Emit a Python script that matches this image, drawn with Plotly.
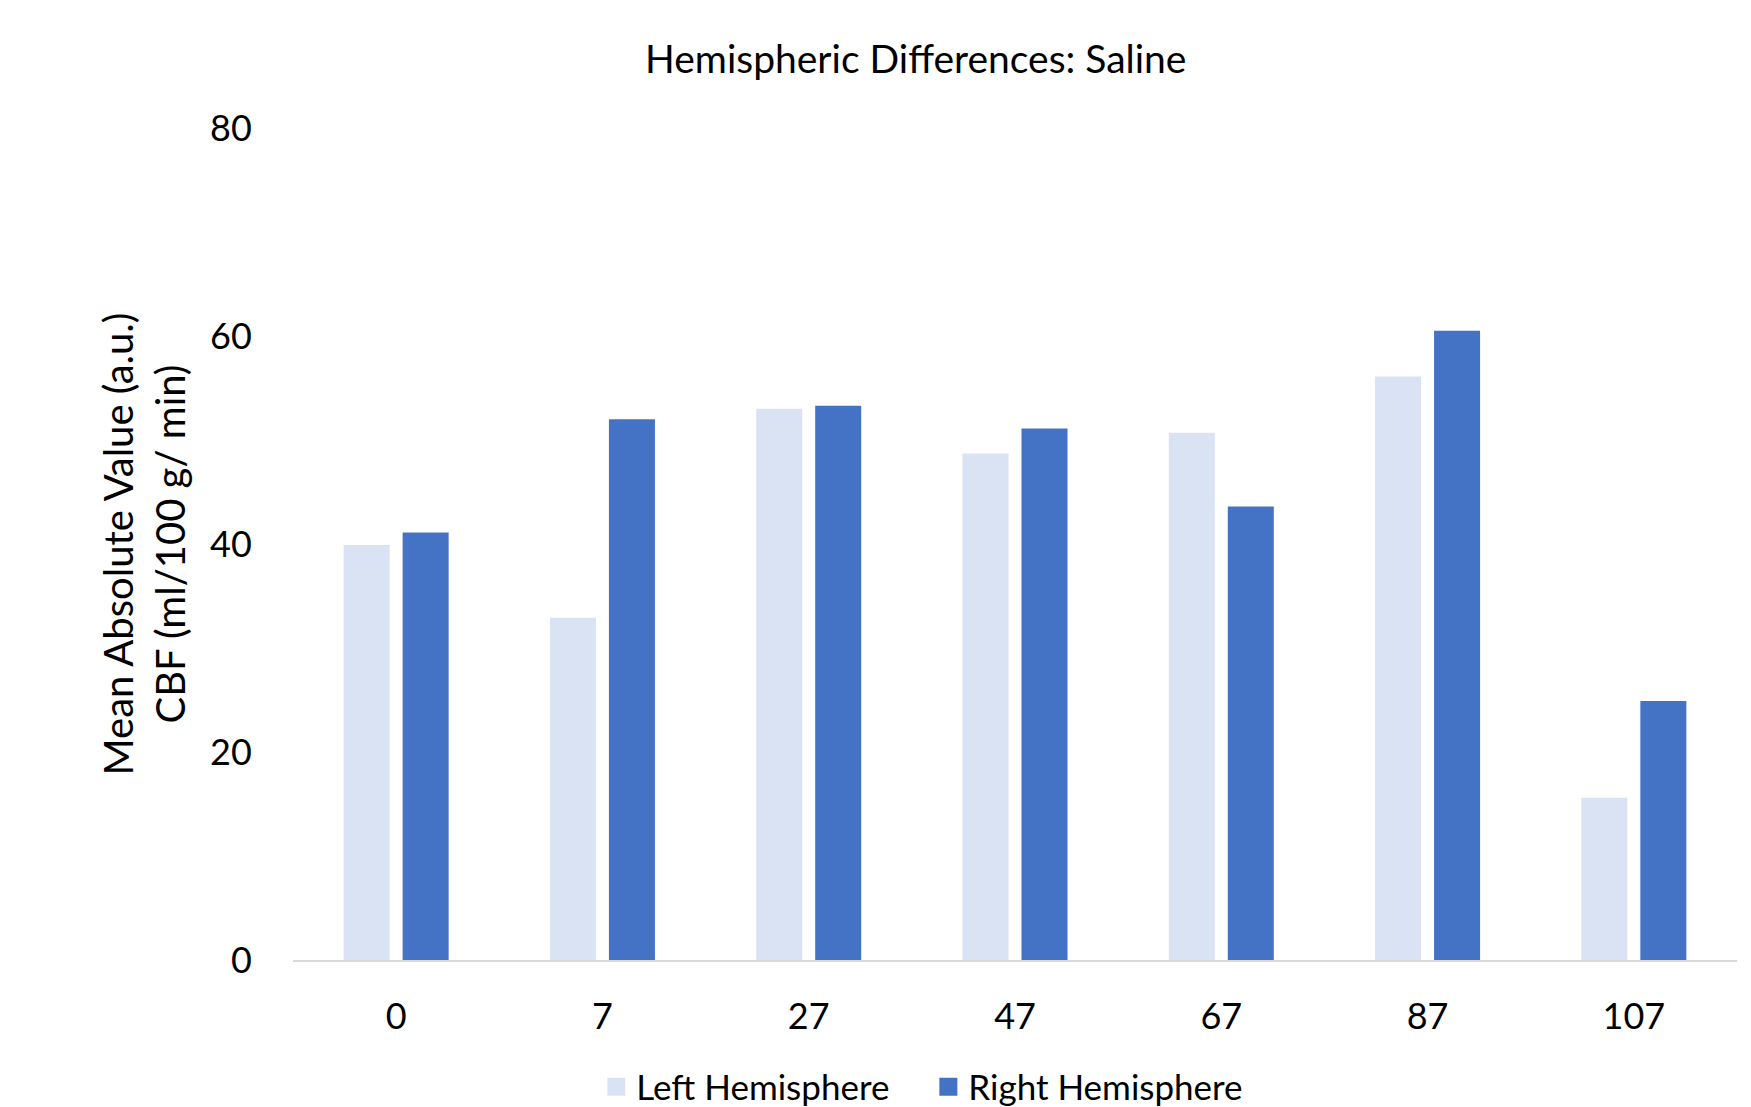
import plotly.graph_objects as go

# Time points (x categories) and mean CBF per hemisphere
time_points = ["0", "7", "27", "47", "67", "87", "107"]
left_hemisphere = [39.9, 32.9, 53.0, 48.7, 50.7, 56.1, 15.6]
right_hemisphere = [41.1, 52.0, 53.3, 51.1, 43.6, 60.5, 24.9]

series_names = ["Left Hemisphere", "Right Hemisphere"]
series_colors = ["#DAE3F3", "#4472C4"]

y_ticks = [0, 20, 40, 60, 80]

FONT = "Lato"

fig = go.Figure()

for name, values, color in zip(series_names, [left_hemisphere, right_hemisphere], series_colors):
    fig.add_trace(go.Bar(
        x=time_points,
        y=values,
        name=name,
        marker=dict(color=color, line=dict(width=0)),
        showlegend=False,
    ))

# Legend entries with larger square swatches
for name, color in zip(series_names, series_colors):
    fig.add_trace(go.Scatter(
        x=[None], y=[None],
        mode="markers",
        name=name,
        marker=dict(symbol="square", size=16, color=color, line=dict(width=2, color=color)),
        showlegend=True,
    ))

fig.update_layout(
    width=1751,
    height=1107,
    margin=dict(l=293, r=14, t=128, b=147, autoexpand=False),
    paper_bgcolor="white",
    plot_bgcolor="white",
    font=dict(family=FONT, color="black"),
    barmode="group",
    bargap=0.428,
    bargroupgap=0.22,
    title=dict(
        text="Hemispheric Differences: Saline",
        font=dict(family=FONT, size=39, color="black"),
        x=0.523, xref="container", xanchor="center",
        y=1 - 59 / 1107, yref="container", yanchor="middle",
    ),
    xaxis=dict(
        type="category",
        showgrid=False,
        showline=True,
        linecolor="#D9D9D9",
        linewidth=2,
        ticks="outside",
        ticklen=24,
        tickcolor="rgba(0,0,0,0)",
        tickfont=dict(family=FONT, size=36, color="black"),
        zeroline=False,
    ),
    yaxis=dict(
        range=[0, 80],
        tickvals=y_ticks,
        ticktext=[str(v) for v in y_ticks],
        showgrid=False,
        showline=False,
        zeroline=False,
        ticks="outside",
        ticklen=33,
        tickcolor="rgba(0,0,0,0)",
        tickfont=dict(family=FONT, size=36, color="black"),
        title=dict(
            text="Mean Absolute Value (a.u.)<br>CBF (ml/100 g/ min)",
            font=dict(family=FONT, size=40, color="black"),
            standoff=12,
        ),
    ),
    legend=dict(
        orientation="h",
        x=0.440, xanchor="center",
        y=1 - 1087 / 1107, yref="container", yanchor="middle",
        font=dict(family=FONT, size=35, color="black"),
        entrywidth=287,
        entrywidthmode="pixels",
        bgcolor="rgba(0,0,0,0)",
    ),
)

fig.write_html("out.html")
